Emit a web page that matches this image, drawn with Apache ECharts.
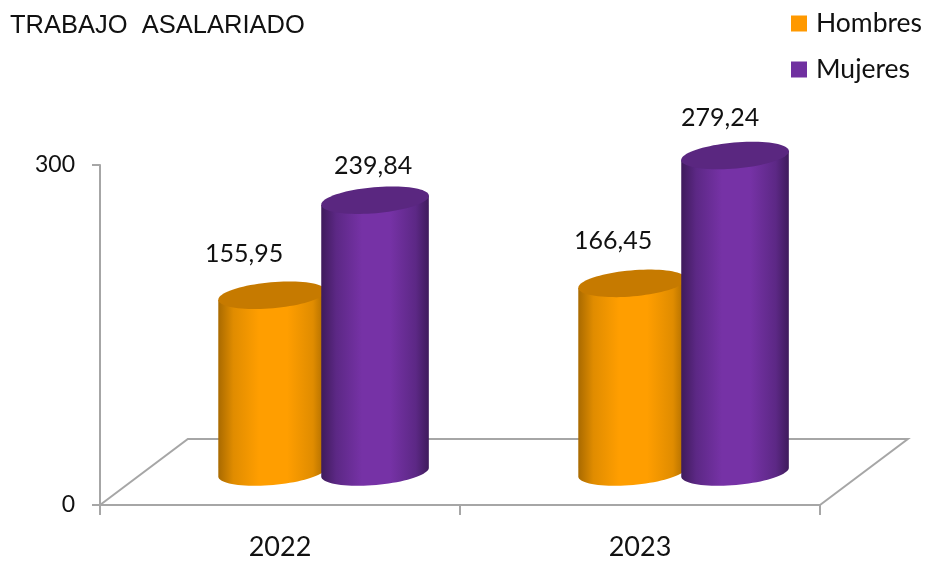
<!DOCTYPE html>
<html>
<head>
<meta charset="utf-8">
<style>html,body{margin:0;padding:0;background:#fff}#c{width:928px;height:562px}</style>
<script src="https://cdn.jsdelivr.net/npm/echarts@6/dist/echarts.min.js"></script>
</head>
<body>
<div id="c"></div>
<script>
const categories = ['2022', '2023'];
const hombres = [155.95, 166.45];
const mujeres = [239.84, 279.24];
const yTicks = [0, 300];
const titleText = 'TRABAJO  ASALARIADO';

const TEXT = '#111111';
const LINE = '#a6a6a6';
const FONT = 'Lato, "Open Sans", sans-serif';
const DEPTH_X = 0.122, DEPTH_Y = 33;   // half of the floor's depth
const RX = 0.15, RY = 13, TILT = -5 * Math.PI / 180;

const palettes = {
  h: {edge: '#a96a00', soft: '#e08c00', mid: '#ff9e00', top: '#c67a00', base: '#ff9900'},
  m: {edge: '#3f1b5c', soft: '#5c2885', mid: '#7632a6', top: '#5a2780', base: '#7030a0'}
};
// small shifts of labels from each cylinder's axis [dx, dy]
const labelShift = {
  h: [[-28, -41], [-19, -42]],
  m: [[-2, -34], [-15, -38]]
};

function ell(cx, cy, rx, ry, t) {
  return [
    cx + rx * Math.cos(t) * Math.cos(TILT) - ry * Math.sin(t) * Math.sin(TILT),
    cy + rx * Math.cos(t) * Math.sin(TILT) + ry * Math.sin(t) * Math.cos(TILT)
  ];
}
function fmt(v) { return v.toFixed(2).replace('.', ','); }

function cylinder(key, side) {
  const pal = palettes[key];
  return function (params, api) {
    const i = api.value(0), v = api.value(1);
    const band = api.size([1, 0])[0];
    const top = api.coord([i, v]), base = api.coord([i, 0]);
    const rx = band * RX;
    const cx = top[0] + band * DEPTH_X + band * side;
    const yT = top[1] - DEPTH_Y, yB = base[1] - DEPTH_Y;
    const body = [ell(cx, yT, rx, RY, Math.PI)];
    for (let k = 0; k <= 40; k++) {
      body.push(ell(cx, yB, rx, RY, Math.PI - Math.PI * k / 40));
    }
    body.push(ell(cx, yT, rx, RY, 0));
    const cap = [];
    for (let k = 0; k < 80; k++) cap.push(ell(cx, yT, rx, RY, 2 * Math.PI * k / 80));
    const grad = new echarts.graphic.LinearGradient(0, 0, 1, 0, [
      {offset: 0, color: pal.edge},
      {offset: 0.14, color: pal.soft},
      {offset: 0.38, color: pal.mid},
      {offset: 0.64, color: pal.mid},
      {offset: 0.88, color: pal.soft},
      {offset: 1, color: pal.edge}
    ]);
    const s = labelShift[key][i];
    return {
      type: 'group',
      children: [
        {type: 'polygon', shape: {points: body}, style: {fill: grad}},
        {type: 'polygon', shape: {points: cap}, style: {fill: pal.top}},
        {type: 'text', x: cx + s[0], y: yT + s[1], style: {
          text: fmt(v), fill: TEXT, font: '25px ' + FONT, align: 'center', verticalAlign: 'middle'
        }}
      ]
    };
  };
}

function floorItem(params, api) {
  const cs = params.coordSys;
  const band = api.size([1, 0])[0];
  const dx = band * DEPTH_X * 2, dy = DEPTH_Y * 2;
  const x0 = cs.x, x1 = cs.x + cs.width, y = cs.y + cs.height;
  return {
    type: 'polyline',
    shape: {points: [[x0, y], [x0 + dx, y - dy], [x1 + dx, y - dy], [x1, y]]},
    style: {fill: null, stroke: LINE, lineWidth: 2}
  };
}

const chart = echarts.init(document.getElementById('c'), null, {renderer: 'canvas'});
chart.setOption({
  animation: false,
  backgroundColor: '#fff',
  title: {
    text: titleText, left: 5, top: 8,
    textStyle: {fontFamily: '"Liberation Sans", Arial, sans-serif', fontSize: 25.5, fontWeight: 'normal', color: TEXT}
  },
  legend: {
    orient: 'vertical', left: 786, top: 5, itemWidth: 16, itemHeight: 16, itemGap: 19,
    icon: 'rect', data: ['Hombres', 'Mujeres'],
    textStyle: {fontFamily: FONT, fontSize: 26.5, color: TEXT, padding: [0, 0, 0, 4]}
  },
  grid: {left: 100, right: 108, top: 165, bottom: 57, containLabel: false},
  xAxis: {
    type: 'category', data: categories, boundaryGap: true,
    axisLine: {show: true, lineStyle: {color: LINE, width: 2}},
    axisTick: {show: true, alignWithLabel: false, length: 10, lineStyle: {color: LINE, width: 2}},
    axisLabel: {fontFamily: FONT, fontSize: 27, color: TEXT, margin: 29},
    splitLine: {show: false}
  },
  yAxis: {
    type: 'value', min: yTicks[0], max: yTicks[1], interval: yTicks[1],
    axisLine: {show: true, lineStyle: {color: LINE, width: 2}},
    axisTick: {show: true, length: 8, lineStyle: {color: LINE, width: 2}},
    axisLabel: {fontFamily: FONT, fontSize: 23, color: TEXT, margin: 25, padding: [9, 0, 0, 0]},
    splitLine: {show: false}
  },
  series: [
    {type: 'custom', name: 'floor', silent: true, clip: false, renderItem: floorItem, data: [[0, 0]], encode: {x: 0, y: 1}, z: 1},
    {type: 'custom', name: 'Hombres', clip: false, renderItem: cylinder('h', -0.144), itemStyle: {color: palettes.h.base},
     data: hombres.map((v, i) => [i, v]), encode: {x: 0, y: 1}, z: 3},
    {type: 'custom', name: 'Mujeres', clip: false, renderItem: cylinder('m', 0.142), itemStyle: {color: palettes.m.base},
     data: mujeres.map((v, i) => [i, v]), encode: {x: 0, y: 1}, z: 4}
  ]
});
</script>
</body>
</html>
